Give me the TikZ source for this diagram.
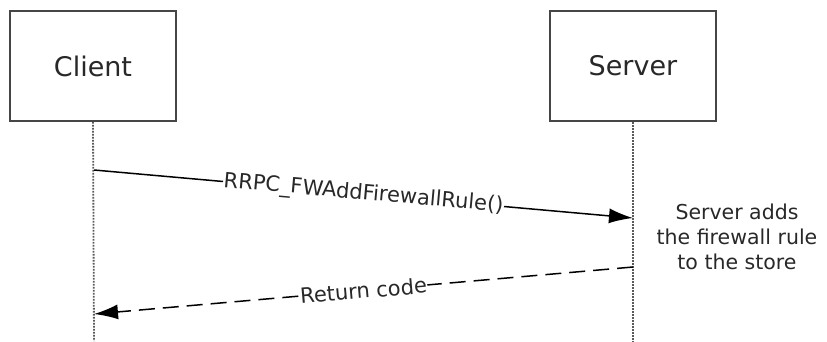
\documentclass[tikz,border=0pt]{standalone}
\usepackage{fontspec}
\setmainfont{DejaVu Sans}
\usetikzlibrary{arrows.meta}
\definecolor{boxgray}{RGB}{70,70,70}
\definecolor{lifegray}{RGB}{90,90,90}
\definecolor{txtgray}{RGB}{40,40,40}
\tikzset{>={Latex[length=24pt,width=15pt]}}

\begin{document}
\begin{tikzpicture}[x=1pt,y=-1pt,
    actor/.style={draw=boxgray,line width=1.8pt,minimum width=166pt,minimum height=110pt,text=txtgray,font=\fontsize{27}{30}\selectfont},
    life/.style={draw=lifegray,line width=1.8pt,dash pattern=on 1.6pt off 1.4pt},
    msg/.style={line width=1.5pt},
    lbl/.style={fill=white,inner sep=0.5pt,sloped,midway,text=txtgray,font=\fontsize{21}{24}\selectfont}]
            \useasboundingbox (0,0) rectangle (827,341);
            \node[actor] (client) at (93,66) {Client};
            \node[actor] (server) at (633,66) {Server};
            \coordinate (cb) at (94,341);
            \coordinate (sb) at (633,341);
            \coordinate (c1) at (94,170);
            \coordinate (s1) at (633,218);
            \coordinate (s2) at (633,267);
            \coordinate (c2) at (94,314);
            \draw[life] (client.south) -- (cb);
            \draw[life] (server.south) -- (sb);
            \draw[msg,->] (c1) -- (s1) node[lbl] {RRPC\_FWAddFirewallRule()};
            \draw[msg,->,dash pattern=on 16pt off 8pt] (s2) -- (c2) node[lbl] {Return code};
            \node[align=center,text=txtgray,font=\fontsize{20.5}{25}\selectfont] (note) at (737,237) {Server adds\\the firewall rule\\to the store};
        \end{tikzpicture}
\end{document}
